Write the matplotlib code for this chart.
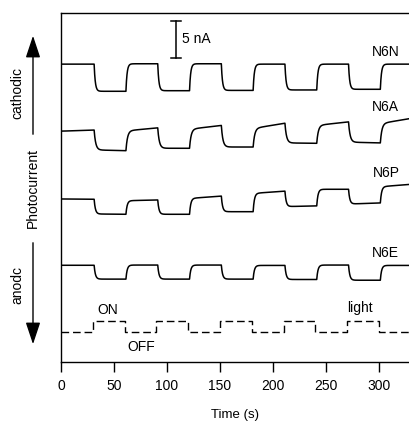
import numpy as np
import matplotlib
matplotlib.use("Agg")
import matplotlib.pyplot as plt

plt.rcParams['font.family'] = ['Liberation Sans', 'DejaVu Sans']

# ---- data ----
edges = [0, 30, 60, 90, 120, 150, 180, 210, 240, 270, 300, 328]   # light switching times (s)
light_state = [0, 1, 0, 1, 0, 1, 0, 1, 0, 1, 0]                   # 0 = OFF, 1 = ON
light_levels = [4.05, 5.54]                                        # OFF / ON level of light trace

n6n_start = [40.25, 36.58, 40.3, 36.66, 40.3, 36.7, 40.25, 36.76, 40.25, 36.85, 40.25]
n6n_end   = [40.25, 36.58, 40.3, 36.66, 40.3, 36.7, 40.25, 36.76, 40.25, 36.85, 40.25]

n6a_start = [31.2, 28.65, 31.26, 28.88, 31.49, 29.05, 31.6, 29.6, 32.0, 29.7, 32.26]
n6a_end   = [31.35, 28.55, 31.66, 28.88, 31.99, 29.05, 32.3, 29.55, 32.47, 29.6, 32.9]

n6p_start = [22.03, 20.0, 21.8, 19.96, 22.12, 20.31, 22.8, 21.0, 23.34, 21.35, 23.7]
n6p_end   = [21.99, 19.96, 21.9, 19.96, 22.43, 20.31, 23.1, 21.1, 23.34, 21.5, 24.0]

n6e_start = [13.07, 11.2, 13.1, 11.2, 13.1, 11.2, 13.05, 11.15, 13.1, 11.05, 13.05]
n6e_end   = [13.07, 11.2, 13.1, 11.2, 13.1, 11.2, 13.05, 11.15, 13.1, 11.05, 13.05]

trace_names = ['N6N', 'N6A', 'N6P', 'N6E']
scale_bar_nA = 5


def response(starts, ends, tau, delay=1.3, dt=0.05):
    """Render the measured segment levels as a detector trace with a finite rise time."""
    t = np.arange(edges[0], edges[-1] + dt, dt)
    e = np.array(edges, dtype=float)
    e_shift = e.copy()
    e_shift[1:-1] += delay
    y = np.empty_like(t)
    cur = starts[0]
    for k, tk in enumerate(t):
        i = min(np.searchsorted(e_shift, tk, side='right') - 1, len(starts) - 1)
        frac = (tk - e_shift[i]) / max(e_shift[i + 1] - e_shift[i], 1e-9)
        target = starts[i] + (ends[i] - starts[i]) * frac
        cur += (target - cur) * dt / tau
        y[k] = cur
    return t, y


W, H = 409, 423
fig = plt.figure(figsize=(W / 100, H / 100), dpi=100)
ax = fig.add_axes([61 / W, 61 / H, 348 / W, 349.3 / H])

lw = 1.1
for (s, e_, tau) in [(n6n_start, n6n_end, 1.1), (n6a_start, n6a_end, 1.5),
                     (n6p_start, n6p_end, 1.2), (n6e_start, n6e_end, 1.2)]:
    t, y = response(s, e_, tau)
    ax.plot(t, y, color='black', lw=lw, solid_joinstyle='round')

# light trace (dashed step)
lx, ly = [], []
for i, st in enumerate(light_state):
    lx += [edges[i], edges[i + 1]]
    ly += [light_levels[st], light_levels[st]]
ax.plot(lx, ly, color='black', lw=1.0, linestyle=(0, (5.5, 2.8)))

fs = 10
ax.set_xlim(0, 328.3)
ax.set_ylim(0, 47.2)
ax.set_xticks([0, 50, 100, 150, 200, 250, 300])
ax.set_yticks([])
ax.tick_params(axis='x', direction='out', length=7, width=1.0, pad=5, labelsize=fs)
ax.spines['right'].set_visible(False)
for sp in ['left', 'top', 'bottom']:
    ax.spines[sp].set_linewidth(1.0)
ax.set_xlabel('Time (s)', fontsize=9.5, labelpad=12)

# scale bar
ax.plot([108.5, 108.5], [41.08, 41.08 + scale_bar_nA], color='black', lw=1.1)
ax.plot([103.5, 113.5], [41.08, 41.08], color='black', lw=1.1)
ax.plot([103.5, 113.5], [41.08 + scale_bar_nA, 41.08 + scale_bar_nA], color='black', lw=1.1)
ax.text(114.5, 43.6, '%d nA' % scale_bar_nA, fontsize=fs, va='center', ha='left')

# trace labels
ax.text(293.5, 41.9, trace_names[0], fontsize=fs, va='center', ha='left')
ax.text(293.5, 34.4, trace_names[1], fontsize=fs, va='center', ha='left')
ax.text(294, 25.6, trace_names[2], fontsize=fs, va='center', ha='left')
ax.text(293, 14.7, trace_names[3], fontsize=fs, va='center', ha='left')
ax.text(270, 7.3, 'light', fontsize=fs, va='center', ha='left')
ax.text(34.5, 7.0, 'ON', fontsize=fs, va='center', ha='left')
ax.text(63, 2.05, 'OFF', fontsize=fs, va='center', ha='left')

# photocurrent arrow and labels (figure pixel coordinates, origin bottom-left)
def fy(py):
    return (H - py) / H

ax_x = 33 / W
fig.add_artist(matplotlib.patches.FancyArrowPatch((ax_x, fy(137)), (ax_x, fy(33)),
               transform=fig.transFigure, arrowstyle='-|>,head_length=0.9,head_width=0.3',
               mutation_scale=15, color='black', lw=1.0))
fig.add_artist(matplotlib.patches.FancyArrowPatch((ax_x, fy(240)), (ax_x, fy(347)),
               transform=fig.transFigure, arrowstyle='-|>,head_length=0.9,head_width=0.3',
               mutation_scale=15, color='black', lw=1.0))
fig.text(ax_x, fy(188), 'Photocurrent', rotation=90, fontsize=fs, ha='center', va='center')
fig.text(17 / W, fy(93), 'cathodic', rotation=90, fontsize=fs, ha='center', va='center')
fig.text(17 / W, fy(285), 'anodc', rotation=90, fontsize=fs, ha='center', va='center')

fig.savefig('out.png', dpi=100)
